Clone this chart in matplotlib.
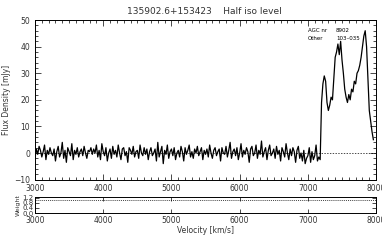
import numpy as np
import matplotlib
matplotlib.use("Agg")
import matplotlib.pyplot as plt
from matplotlib.ticker import MultipleLocator

# ---- data ----
v_start = 3000.0
v_step = 20.0
noise_flux = [
    -2.0, 1.5, -0.5, 2.5, 1.0, -1.5, 0.5, 3.0, -2.5, 1.0,
    -0.5, 2.0, 0.0, -1.0, 1.5, -3.0, 0.5, 2.5, -1.5, 0.0,
    4.0, -2.0, 1.0, -3.5, 2.0, 0.5, -1.0, 3.5, -2.5, 1.0,
    -0.5, 2.0, -1.5, 0.5, 1.5, -1.0, 2.5, 0.0, -2.0, 1.0,
    0.5, 2.0, -0.5, 1.5, 0.0, 3.0, -1.5, 1.0, -2.5, 3.5,
    0.5, -1.0, 2.0, -3.0, 0.0, 1.5, -2.0, 2.5, -0.5, 1.0,
    -1.5, 3.0, 0.0, -2.5, 1.5, 2.0, -1.0, 0.5, -3.5, 2.0,
    1.0, -0.5, 2.5, -1.5, 0.5, 1.0, -2.0, 3.0, 0.0, -1.0,
    2.0, -0.5, 1.5, -2.5, 0.5, 2.0, -1.0, 0.0, 1.5, -3.0,
    4.0, -1.5, 0.5, 2.5, -4.0, 1.0, -0.5, 3.0, -2.0, 0.5,
    1.5, -1.0, 2.0, -2.5, 0.0, 1.0, -1.5, 2.5, 0.5, -3.0,
    2.0, -0.5, 1.0, 3.0, -1.5, 0.5, -2.0, 1.5, 0.0, 2.5,
    -1.0, 0.5, 2.0, -2.5, 1.0, -0.5, 1.5, -1.5, 3.0, 0.0,
    -2.0, 1.0, 2.0, -1.0, 0.5, 1.5, -3.0, 2.0, 0.0, -0.5,
    2.5, -1.5, 1.0, 4.0, -2.0, 0.5, 1.5, -1.0, 2.0, -2.5,
    0.0, 3.5, -1.5, 1.0, -0.5, 2.0, 0.5, -3.5, 1.5, 2.5,
    -1.0, 0.0, 3.0, -2.0, 1.0, -0.5, 4.5, -1.5, 0.5, 2.0,
    -2.5, 1.0, 3.0, -1.0, 0.0, 1.5, -2.0, 2.5, -0.5, 1.0,
    -3.0, 2.0, 0.5, -1.5, 3.5, 0.0, -2.5, 1.5, -1.0, 2.0,
    0.5, -3.5, 1.0, 2.5, -2.0, 0.0, -3.0, 1.0, -4.0, -2.0,
    -1.0, 2.0, -3.5, 0.5, -2.5, -1.0, 3.0, -3.0, -1.5, -2.5,
]
line_flux = [
    19, 26, 29, 27, 19, 16, 18, 21, 20, 28,
    36, 38, 41, 37, 42, 35, 30, 24, 21, 19,
    22, 20, 24, 23, 27, 26, 30, 31, 33, 36,
    40, 44, 46, 40, 28, 16, 12, 8, 5,
]
weight_level = 1.0
xticks = [3000, 4000, 5000, 6000, 7000, 8000]
yticks = [-10, 0, 10, 20, 30, 40, 50]
wticks = [0.0, 0.4, 0.8, 1.2]

flux = np.array(noise_flux + line_flux, dtype=float)
vel = v_start + v_step * np.arange(len(flux))

tc = "#333333"
fig = plt.figure(figsize=(3.82, 2.45), dpi=100)
ax = fig.add_axes([0.0916, 0.267, 0.893, 0.651])
ax2 = fig.add_axes([0.0916, 0.1306, 0.893, 0.0653])

ax.plot(vel, flux, color="black", lw=0.9)
ax.axhline(0, color="black", lw=0.5, ls=(0, (2, 2)))
ax.set_xlim(3000, 8000)
ax.set_ylim(-10, 50)
ax.set_xticks(xticks)
ax.set_yticks(yticks)
ax.xaxis.set_minor_locator(MultipleLocator(100))
ax.yaxis.set_minor_locator(MultipleLocator(2))
ax.tick_params(axis="both", which="both", direction="in", top=True, right=True,
               labelsize=5.5, labelcolor=tc, width=0.5)
ax.tick_params(which="major", length=4)
ax.tick_params(which="minor", length=2)
ax.set_ylabel("Flux Density [mJy]", fontsize=5.5, color=tc, labelpad=2)
for s in ax.spines.values():
    s.set_linewidth(0.7)

ax.text(7003, 45.5, "AGC nr", fontsize=4, color="black")
ax.text(7413, 45.5, "8902", fontsize=4, color="black")
ax.text(7003, 42.5, "Other", fontsize=4, color="black")
ax.text(7413, 42.5, "103\u2013035", fontsize=4, color="black")

ax2.axhline(weight_level, color="black", lw=0.5, ls=(0, (1.5, 1.5)))
ax2.set_xlim(3000, 8000)
ax2.set_ylim(0, 1.25)
ax2.set_xticks(xticks)
ax2.set_yticks(wticks)
ax2.set_yticklabels([f"{t:.1f}" for t in wticks])
ax2.tick_params(axis="both", which="both", direction="in", top=True, right=True,
                labelsize=5.5, labelcolor=tc, width=0.5, length=3, pad=2)
ax2.tick_params(axis="y", labelsize=5, pad=1)
ax2.set_ylabel("Weight", fontsize=4.5, color=tc, labelpad=1)
ax2.set_xlabel("Velocity [km/s]", fontsize=5.5, color=tc, labelpad=1)
for s in ax2.spines.values():
    s.set_linewidth(0.7)

fig.text(0.535, 0.955, "135902.6+153423    Half iso level", ha="center", va="center",
         fontsize=6.5, color=tc)

fig.savefig("out.png", dpi=100)
